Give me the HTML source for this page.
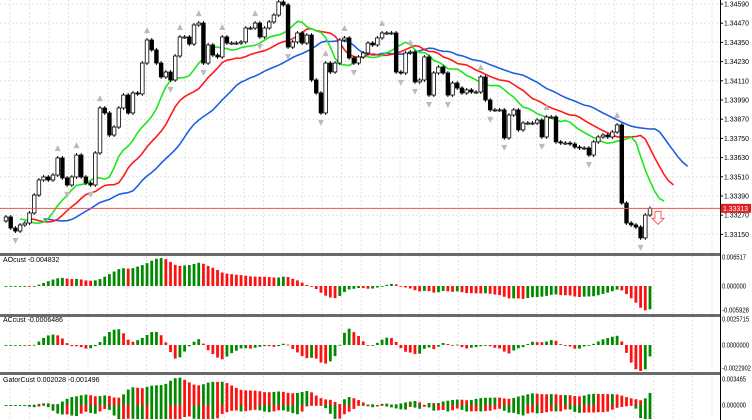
<!DOCTYPE html>
<html><head><meta charset="utf-8"><style>
html,body{margin:0;padding:0;background:#fff;width:752px;height:420px;overflow:hidden}
svg{display:block;font-family:"Liberation Sans",sans-serif}
</style></head><body>
<svg id="chart" width="752" height="420" viewBox="0 0 752 420" xmlns="http://www.w3.org/2000/svg">
<rect x="0" y="0" width="752" height="420" fill="#fff"/>
<g id="grid"></g>
<g id="main"></g>
<g id="ao"></g>
<g id="ac"></g>
<g id="gator"></g>
<g id="axes"></g>
</svg>
<script>
const closes=[1.33259,1.33190,1.33171,1.33209,1.33221,1.33284,1.33396,1.33490,1.33509,1.33490,1.33521,1.33628,1.33503,1.33459,1.33509,1.33646,1.33509,1.33471,1.33459,1.33659,1.33940,1.33909,1.33771,1.33821,1.33940,1.34021,1.33909,1.34034,1.34028,1.34221,1.34365,1.34303,1.34221,1.34134,1.34165,1.34115,1.34265,1.34384,1.34384,1.34340,1.34459,1.34471,1.34221,1.34334,1.34271,1.34259,
1.34384,1.34346,1.34346,1.34346,1.34353,1.34440,1.34440,1.34471,1.34384,1.34440,1.34478,1.34521,1.34603,1.34584,1.34321,1.34353,1.34409,1.34346,1.34396,1.34115,1.34034,1.33909,1.34221,1.34165,1.34221,1.34365,1.34378,1.34253,1.34221,1.34259,1.34284,1.34346,1.34334,1.34378,1.34409,1.34409,1.34409,1.34165,1.34159,1.34284,1.34290,1.34103,1.34115,
1.34259,1.34021,1.34159,1.34196,1.34159,1.34021,1.34096,1.34065,1.34034,1.34053,1.34040,1.34040,1.34134,1.33990,1.33928,1.33928,1.33928,1.33753,1.33896,1.33928,1.33803,1.33846,1.33846,1.33846,1.33865,1.33759,1.33884,1.33884,1.33728,1.33721,1.33721,1.33715,1.33696,1.33690,1.33690,1.33646,1.33728,1.33759,1.33771,1.33759,1.33790,1.33834,1.33346,1.33221,1.33209,1.33196,1.33128,1.33271,1.33313];
const firstOpen=1.33234;
const priceTicks=["1.34590","1.34470","1.34350","1.34230","1.34110","1.33990","1.33870","1.33750","1.33630","1.33510","1.33390","1.33270","1.33150"];
const currentPrice=1.33313;
const aoTicks=["0.006517","0.000000","-0.005928"];
const acTicks=["0.0025715","0.0000000","-0.0022902"];
const gatorTicks=["0.003465","0.000000"];

const NS="http://www.w3.org/2000/svg";
function mk(parent,tag,attrs){const e=document.createElementNS(NS,tag);for(const k in attrs)e.setAttribute(k,attrs[k]);parent.appendChild(e);return e;}
const N=closes.length;
const xOf=i=>6+i*(644/(N-1));
const yP=p=>4+(1.34590-p)/0.0000625;
const opens=closes.map((c,i)=>i?closes[i-1]:firstOpen);
const highs=closes.map((c,i)=>Math.max(c,opens[i])+0.00012);
const lows=closes.map((c,i)=>Math.min(c,opens[i])-0.00012);
const med=closes.map((c,i)=>(highs[i]+lows[i])/2);

const grid=document.getElementById('grid');
for(let gx=10;gx<720;gx+=19.5){const l=mk(grid,'line',{x1:gx,y1:0,x2:gx,y2:420,stroke:'#e4e4e4','stroke-dasharray':'2,2'});

}
priceTicks.forEach(t=>{const y=yP(+t);const l=mk(grid,'line',{x1:0,y1:y,x2:720,y2:y,stroke:'#e4e4e4','stroke-dasharray':'2,2'});

});

function smma(src,n){const o=[];let v=src[0];for(let i=0;i<src.length;i++){v=i?(v*(n-1)+src[i])/n:src[0];o.push(v);}return o;}
const jaw=smma(med,13),teeth=smma(med,8),lips=smma(med,5);
const main=document.getElementById('main');
function drawLine(arr,shift,color,name){let d='';arr.forEach((v,i)=>{d+=(i?'L':'M')+xOf(i+shift).toFixed(1)+','+yP(v).toFixed(1);});
const p=mk(main,'path',{d:d,fill:'none',stroke:color,'stroke-width':1.6});

}
drawLine(jaw,8,'#1f5fe0','alligator-jaw');
drawLine(teeth,5,'#ff1a1a','alligator-teeth');
drawLine(lips,3,'#1ee61e','alligator-lips');

for(let i=0;i<N;i++){const x=xOf(i),o=opens[i],c=closes[i];
const w=mk(main,'line',{x1:x,y1:yP(highs[i]),x2:x,y2:yP(lows[i]),stroke:'#000','stroke-width':1});


const top=yP(Math.max(o,c)),bot=yP(Math.min(o,c));
const b=mk(main,'rect',{x:x-1.8,y:top,width:3.6,height:Math.max(1,bot-top),fill:c>=o?'#fff':'#000',stroke:'#000','stroke-width':0.8});

}
for(let i=2;i<N-2;i++){
if(highs[i]>highs[i-1]&&highs[i]>highs[i-2]&&highs[i]>=highs[i+1]&&highs[i]>=highs[i+2]){const x=xOf(i),y=yP(highs[i])-8;
const f=mk(main,'path',{d:`M${x-3},${y+3}L${x},${y-3}L${x+3},${y+3}Z`,fill:'#bbb'});

}
if(lows[i]<lows[i-1]&&lows[i]<lows[i-2]&&lows[i]<=lows[i+1]&&lows[i]<=lows[i+2]){const x=xOf(i),y=yP(lows[i])+8;
const f=mk(main,'path',{d:`M${x-3},${y-3}L${x},${y+3}L${x+3},${y-3}Z`,fill:'#bbb'});

}}
const cp=mk(main,'line',{x1:0,y1:yP(currentPrice),x2:720,y2:yP(currentPrice),stroke:'#f05050','stroke-width':1});


const sa=mk(main,'path',{d:`M655,${yP(currentPrice)+3}h6v7h3l-6,6l-6,-6h3z`,fill:'#fff',stroke:'#f06060','stroke-width':1});



function sma(src,n){return src.map((v,i)=>{const s=src.slice(Math.max(0,i-n+1),i+1);return s.reduce((a,b)=>a+b,0)/s.length;});}
const ao=sma(med,5).map((v,i)=>v-sma(med,34)[i]);
const acv=ao.map((v,i)=>v-sma(ao,5)[i]);
function bars(gid,vals,zero,scale,name,maxH){const g=document.getElementById(gid);vals.forEach((v,i)=>{const rising=i?v>=vals[i-1]:true;
let h=Math.min(maxH,Math.abs(v*scale));const down=(v*scale)<0;
const r=mk(g,'rect',{x:xOf(i)-1.4,y:down?zero:zero-h,width:2.8,height:Math.max(0.8,h),fill:rising?'#008a00':'#ff1010'});

});}
bars('ao',ao,286,32/0.006517,'ao-bar',30);
bars('ac',acv,345,40/0.0025715,'ac-bar',26);
const at=(a,k)=>a[Math.max(0,k)];
const gUp=closes.map((c,i)=>Math.abs(at(jaw,i-8)-at(teeth,i-5)));
const gDn=closes.map((c,i)=>Math.abs(at(teeth,i-5)-at(lips,i-3)));
bars('gator',gUp,405,28/0.0028,'gator-up-bar',28);
bars('gator',gDn,405,-28/0.0028,'gator-down-bar',14);

const ax=document.getElementById('axes');
[[253,3],[314,3],[372,3]].forEach(([y,h])=>{const r=mk(ax,'rect',{x:0,y:y,width:752,height:h,fill:'#6a6a6a'});

});
const bg=mk(ax,'rect',{x:721,y:0,width:31,height:420,fill:'#fff'});


const va=mk(ax,'line',{x1:720.5,y1:0,x2:720.5,y2:420,stroke:'#000'});


function lbl(txt,x,y,name,fill,len){const a={x:x,y:y,'font-size':7,fill:fill||'#000'};if(len){a.textLength=len;a.lengthAdjust='spacingAndGlyphs';}const t=mk(ax,'text',a);t.textContent=txt;

return t;}
priceTicks.forEach(t=>{const y=yP(+t);const k=mk(ax,'line',{x1:720,y1:y,x2:723,y2:y,stroke:'#000'});


lbl(t,724,y+2.5,'price-tick-label',null,25);});
const pb=mk(ax,'rect',{x:721,y:yP(currentPrice)-4.5,width:30,height:9,fill:'#e02020'});


lbl(currentPrice.toFixed(5),723,yP(currentPrice)+2.5,'current-price-label','#fff',25);
[257,286,310].forEach((y,i)=>lbl(aoTicks[i],722,y+2.5,'ao-tick-label',null,i==2?27:24));
[319,345,368].forEach((y,i)=>lbl(acTicks[i],722,y+2.5,'ac-tick-label',null,i==2?29:27));
[379,405].forEach((y,i)=>lbl(gatorTicks[i],722,y+2.5,'gator-tick-label',null,24));
lbl('AOcust -0.004832',3,262,'ao-title');
lbl('ACcust -0.0006486',3,322,'ac-title');
lbl('GatorCust 0.002028 -0.001496',3,382,'gator-title');
</script>
</body></html>
